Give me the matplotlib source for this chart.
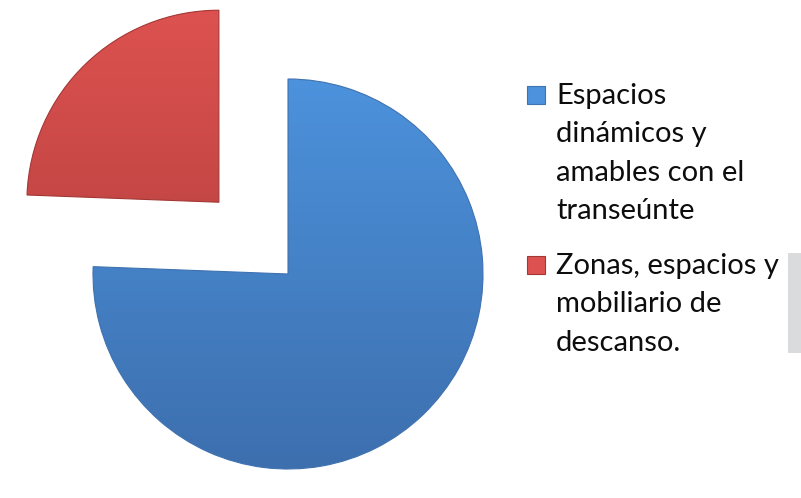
import numpy as np
import matplotlib.pyplot as plt
from matplotlib.patches import Rectangle
from matplotlib.colors import LinearSegmentedColormap

labels = ["Espacios\ndinámicos y\namables con el\ntranseúnte",
          "Zonas, espacios y\nmobiliario de\ndescanso."]
values = [75.6, 24.4]
explode = [0.0, 0.511]
top_colors = ["#4c92dc", "#dd5250"]
bottom_colors = ["#3d6fae", "#ad3c3a"]
edge_colors = ["#3f72b0", "#a33735"]

plt.rcParams['font.family'] = ['Lato', 'DejaVu Sans']

W, H = 801, 498
fig = plt.figure(figsize=(W / 100, H / 100), dpi=100)
ax = fig.add_axes([0, 0, 1, 1])
xlim = (-288 / 195, (W - 288) / 195)
ylim = (-(H - 274) / 195, 274 / 195)

wedges, _ = ax.pie(values, explode=explode, startangle=90, counterclock=False,
                   radius=1.0, center=(0, 0), frame=False)
wedges[1].set_radius(192 / 195)

# vertical gradient inside each wedge, clipped to its outline
for w, c0, c1, ec in zip(wedges, top_colors, bottom_colors, edge_colors):
    w.set_facecolor('none')
    w.set_edgecolor(ec)
    w.set_linewidth(0.8)
    cx, cy = w.center
    cmap = LinearSegmentedColormap.from_list('g', [c1, c0])
    grad = np.linspace(0, 1, 256).reshape(-1, 1)
    im = ax.imshow(grad, cmap=cmap, origin='lower', aspect='auto',
                   extent=(cx - 1, cx + 1, cy - 1, cy + 1), zorder=0.5)
    im.set_clip_path(w)

ax.set_xlim(*xlim)
ax.set_ylim(*ylim)
ax.set_aspect('equal')
ax.axis('off')

# legend: square marker beside the first line, one text per line
first_baseline = [104, 274]
line_step = 38.3
for lab, y0, c0, c1, ec in zip(labels, first_baseline, top_colors,
                               bottom_colors, edge_colors):
    fig.patches.append(Rectangle((527 / W, 1 - y0 / H), 18 / W, 18 / H,
                                 transform=fig.transFigure, facecolor=c0,
                                 edgecolor=ec, linewidth=0.8))
    for i, line in enumerate(lab.split('\n')):
        fig.text(556 / W, 1 - (y0 + i * line_step) / H, line,
                 fontsize=21, color='#0d0d0d', ha='left', va='baseline')

# light gray strip at the right edge
fig.patches.append(Rectangle((788 / W, 1 - 353 / H), 13 / W, 100 / H,
                             transform=fig.transFigure, facecolor='#dadbdd',
                             edgecolor='none'))

fig.savefig('out.png', dpi=100)
